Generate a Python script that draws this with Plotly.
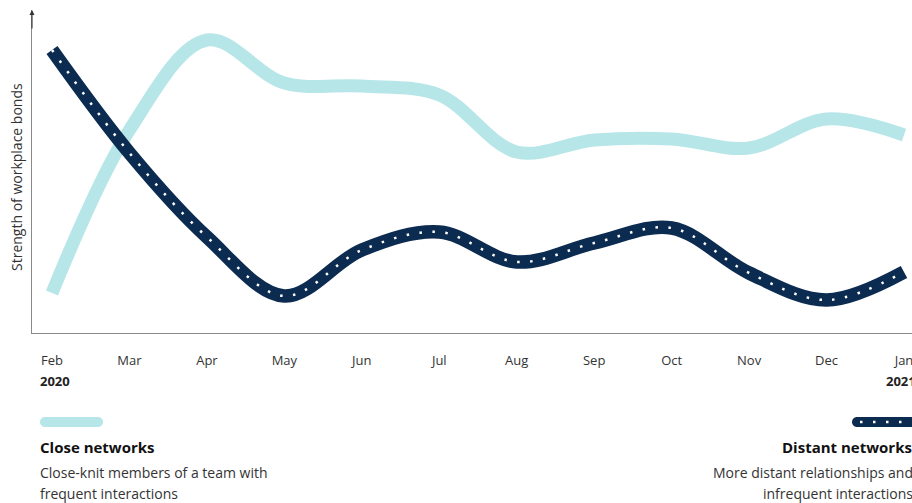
import plotly.graph_objects as go

months = ["Feb", "Mar", "Apr", "May", "Jun", "Jul", "Aug", "Sep", "Oct", "Nov", "Dec", "Jan"]
close_networks = [40, 203, 293, 250, 247, 238, 181, 193, 194, 185, 214, 198]
distant_networks = [283, 180, 96, 37, 83, 101, 71, 90, 105, 60, 33, 61]
year_labels = {"Feb": "2020", "Jan": "2021"}

CYAN = "#b7e6e8"
NAVY = "#0c2b50"
FONT = "Open Sans"

W, H = 912, 503
L, R, T, B = 32, 0, 10, 170
PW, PH = W - L - R, H - T - B


def px(x):
    return (x - L) / PW


def py(y):
    return (H - B - y) / PH


xs = list(range(len(months)))

fig = go.Figure()
fig.add_trace(go.Scatter(x=xs, y=close_networks, mode="lines",
                         line=dict(color=CYAN, width=13, shape="spline", smoothing=1.0),
                         hoverinfo="skip", showlegend=False))
fig.add_trace(go.Scatter(x=xs, y=distant_networks, mode="lines",
                         line=dict(color=NAVY, width=13.5, shape="spline", smoothing=1.0),
                         hoverinfo="skip", showlegend=False))
fig.add_trace(go.Scatter(x=xs, y=distant_networks, mode="lines",
                         line=dict(color="white", width=2.5, shape="spline", smoothing=1.0, dash="2.5px,10.5px"),
                         hoverinfo="skip", showlegend=False))

spacing = 77.45
fig.update_xaxes(range=[-20 / spacing, 11 + 8 / spacing], tickvals=xs, ticktext=months,
                 showline=True, linecolor="#8a8a8a", linewidth=1.2, showgrid=False, zeroline=False,
                 ticks="", ticklabelstandoff=15, ticklabeloverflow="allow",
                 tickfont=dict(family=FONT, size=13, color="#333333"))
fig.update_yaxes(range=[0, 323], showline=True, linecolor="#8a8a8a", linewidth=1.2,
                 showgrid=False, zeroline=False, showticklabels=False, ticks="")

ann = []
# axis arrow
ann.append(dict(xref="paper", yref="paper", x=0, y=py(10), ax=0, ay=20, text="",
                showarrow=True, arrowhead=2, arrowsize=0.9, arrowwidth=1.1, arrowcolor="#333333"))
# y title
ann.append(dict(xref="paper", yref="paper", x=px(16), y=py(177), xanchor="center", yanchor="middle",
                text="Strength of workplace bonds",
                textangle=-90, showarrow=False, font=dict(family=FONT, size=14, color="#333333")))
# years
for m, yr in year_labels.items():
    i = months.index(m)
    ann.append(dict(xref="x", yref="paper", x=i, y=py(381), xanchor="center", yanchor="middle",
                    text="<b>%s</b>" % yr,
                    showarrow=False, font=dict(family=FONT, size=13, color="#222222"),
                    xshift=3 if m == "Feb" else -3))
# legend texts
left_lines = [("<b>Close networks</b>", 447, 15, "#111111"),
              ("Close-knit members of a team with", 472, 14, "#333333"),
              ("frequent interactions", 493, 14, "#333333")]
right_lines = [("<b>Distant networks</b>", 447, 15, "#111111", 914),
               ("More distant relationships and", 472, 14, "#333333", 915),
               ("infrequent interactions", 493, 14, "#333333", 915)]
for t, y, s, c in left_lines:
    ann.append(dict(xref="paper", yref="paper", x=px(38), y=py(y), xanchor="left", yanchor="middle",
                    text=t, showarrow=False, font=dict(family=FONT, size=s, color=c)))
for t, y, s, c, xr in right_lines:
    ann.append(dict(xref="paper", yref="paper", x=px(xr), y=py(y), xanchor="right", yanchor="middle",
                    text=t, showarrow=False, font=dict(family=FONT, size=s, color=c)))


def pill(x0, x1, yc, h):
    r = h / 2
    a0, a1 = px(x0 + r), px(x1 - r)
    top, bot = py(yc - r), py(yc + r)
    mid = py(yc)
    kx = (px(x0) - px(x0 + r))
    return ("M %f,%f L %f,%f C %f,%f %f,%f %f,%f C %f,%f %f,%f %f,%f L %f,%f "
            "C %f,%f %f,%f %f,%f C %f,%f %f,%f %f,%f Z" % (
                a0, top, a1, top,
                a1 - kx * 0.55, top, a1 - kx, mid + (top - mid) * 0.55, a1 - kx, mid,
                a1 - kx, mid + (bot - mid) * 0.55, a1 - kx * 0.55, bot, a1, bot,
                a0, bot,
                a0 + kx * 0.55, bot, a0 + kx, mid + (bot - mid) * 0.55, a0 + kx, mid,
                a0 + kx, mid + (top - mid) * 0.55, a0 + kx * 0.55, top, a0, top))


shapes = [
    dict(type="path", xref="paper", yref="paper", path=pill(40, 103, 422, 10),
         fillcolor=CYAN, line=dict(width=0)),
    dict(type="path", xref="paper", yref="paper", path=pill(852, 930, 422, 10),
         fillcolor=NAVY, line=dict(width=0)),
    dict(type="line", xref="paper", yref="paper", x0=px(860), x1=px(930), y0=py(422), y1=py(422),
         line=dict(color="white", width=2.5, dash="2.5px,10.5px")),
]

fig.update_layout(width=W, height=H, margin=dict(l=L, r=R, t=T, b=B),
                  plot_bgcolor="white", paper_bgcolor="white",
                  annotations=ann, shapes=shapes, showlegend=False,
                  font=dict(family=FONT))

fig.write_html("out.html")
